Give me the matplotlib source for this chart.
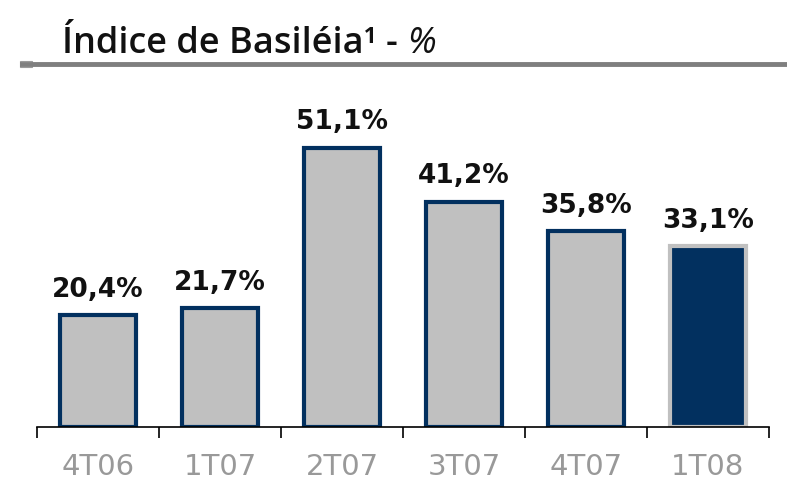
import matplotlib.pyplot as plt
from matplotlib.patches import Rectangle

periods = ["4T06", "1T07", "2T07", "3T07", "4T07", "1T08"]
basel = [20.4, 21.7, 51.1, 41.2, 35.8, 33.1]
labels = ["20,4%", "21,7%", "51,1%", "41,2%", "35,8%", "33,1%"]

navy = "#02305f"
grey = "#c0c0c0"

fig = plt.figure(figsize=(7.87, 4.86), dpi=100)
ax = fig.add_axes([37 / 787, 59 / 486, 732 / 787, 328 / 486])

faces = [grey] * 5 + [navy]
edges = [navy] * 5 + [grey]
x = range(len(periods))
ax.bar(x, basel, width=0.62, color=faces, edgecolor=edges, linewidth=3, zorder=2)

for i, v in enumerate(basel):
    ax.annotate(labels[i], (i, v), xytext=(0, 9), textcoords="offset points",
                ha="center", va="bottom", fontsize=19, fontweight="bold",
                family="DejaVu Sans", color="#111111")

ax.set_xlim(-0.5, len(periods) - 0.5)
ax.set_ylim(0, 60)
ax.set_yticks([])
for s in ["top", "right", "left"]:
    ax.spines[s].set_visible(False)
ax.spines["bottom"].set_linewidth(1.2)
ax.spines["bottom"].set_zorder(3)

ax.set_xticks(list(x))
ax.set_xticklabels(periods, fontsize=21, color="#999999", family="DejaVu Sans")
ax.tick_params(axis="x", which="major", length=0, pad=19)
ax.set_xticks([i - 0.5 for i in range(len(periods) + 1)], minor=True)
ax.tick_params(axis="x", which="minor", length=8, width=1.2, direction="out")

# title and rule under it
t = fig.text(62 / 787, 1 - 44 / 486, "Índice de Basiléia¹ - ", fontsize=26,
             fontweight="semibold", va="center", ha="left", color="#111111",
             family="Open Sans")
fig.canvas.draw()
bb = t.get_window_extent()
fig.text(bb.x1 / 787, 1 - 44 / 486, "%", fontsize=26, fontstyle="italic",
         va="center", ha="left", color="#111111", family="Open Sans")

fig.add_artist(plt.Line2D([22 / 787, 1.0], [1 - 64 / 486, 1 - 64 / 486],
                          color="#7f7f7f", linewidth=3.5, transform=fig.transFigure))
fig.add_artist(Rectangle((20 / 787, 1 - 67 / 486), 12 / 787, 6 / 486,
                         facecolor="#e8e8e8", edgecolor="#9a9a9a", linewidth=0.8,
                         transform=fig.transFigure))

fig.savefig("out.png", dpi=100)
